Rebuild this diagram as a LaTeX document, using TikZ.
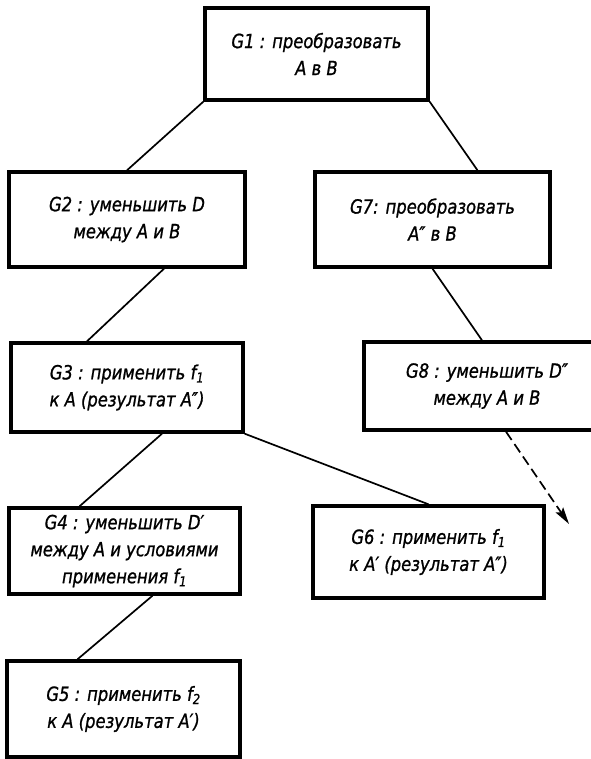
\documentclass[tikz,border=0pt]{standalone}
\usepackage{fontspec}
\newfontfamily\goalfont{DejaVu Sans}[FakeStretch=0.84,FakeBold=1]
\usepackage{tikz}
\usetikzlibrary{arrows.meta,positioning}

\begin{document}
\begin{tikzpicture}[x=1pt,y=-1pt,
   goal/.style={draw,line width=3.4pt,inner sep=2pt,align=center,
      font=\goalfont\itshape\fontsize{19.5}{27}\selectfont},
   link/.style={draw,line width=1.7pt,-}]
   \useasboundingbox (0,0) rectangle (590,759);
   \foreach \pos/\name/\w/\h/\disp in {{(316.5,54)/g1/223/92/G1 : преобразовать\\A в B},
      {(127,219.5)/g2/236/95/G2 : уменьшить D\\между A и B},
      {(432.5,219.5)/g7/235/95/G7: преобразовать\\A″ в B},
      {(127,387.5)/g3/232/89/G3 : применить f\textsubscript{1}\\к A (результат A″)},
      {(487,386)/g8/246/88/G8 : уменьшить D″\\между A и B},
      {(124.5,551)/g4/231/86/G4 : уменьшить D′\\между A и условиями\\применения f\textsubscript{1}},
      {(428.5,552)/g6/231/92/G6 : применить f\textsubscript{1}\\к A′ (результат A″)},
      {(123.5,709)/g5/233/96/G5 : применить f\textsubscript{2}\\к A (результат A′)}}
   \node[goal,minimum width=\w,minimum height=\h] (\name) at \pos {\disp};
   \coordinate (away) at (569,524);
   \foreach \source/\sx/\dest/\dx in {g1.south west/0/g2.north/0, g1.south east/0/g7.north/45,
      g2.south/37/g3.north/-40, g3.south/35/g4.north/-45, g3.south east/0/g6.north/0,
      g4.south/28/g5.north/-46, g7.south/0/g8.north/-5} % tree of subgoals
   \path[link] ([xshift=\sx]\source) -- ([xshift=\dx]\dest);
   \path[link,dash pattern=on 10pt off 5pt,-{Stealth[length=17pt,width=9pt,inset=3pt]}] ([xshift=19]g8.south) -- (away);
\end{tikzpicture}
\end{document}
